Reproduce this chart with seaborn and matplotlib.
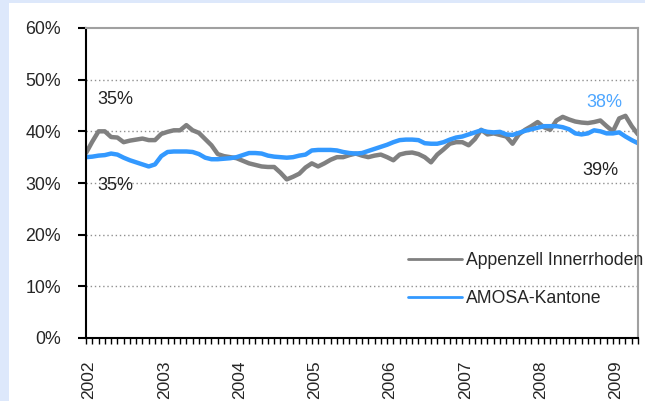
import numpy as np
import pandas as pd
import matplotlib
matplotlib.use('Agg')
import matplotlib.pyplot as plt
import matplotlib.transforms as mtrans
import seaborn as sns
from matplotlib.patches import Rectangle
from matplotlib.ticker import FuncFormatter

# Monatswerte Jan 2002 - Mai 2009, in %
appenzell = [35.8, 38.0, 40.0, 40.0, 38.9, 38.8, 37.9, 38.2, 38.4, 38.6,
             38.3, 38.3, 39.5, 39.9, 40.2, 40.2, 41.2, 40.2, 39.7, 38.5,
             37.3, 35.6, 35.2, 35.0, 34.8, 34.3, 33.8, 33.5, 33.2, 33.1,
             33.1, 32.0, 30.7, 31.2, 31.8, 33.0, 33.8, 33.2, 33.8, 34.5,
             35.0, 35.0, 35.4, 35.7, 35.3, 35.0, 35.3, 35.5, 35.0, 34.4,
             35.5, 35.8, 35.9, 35.6, 35.0, 34.0, 35.5, 36.5, 37.6, 37.9,
             37.9, 37.3, 38.5, 40.3, 39.4, 39.6, 39.3, 39.0, 37.6, 39.4,
             40.3, 41.0, 41.8, 40.8, 40.3, 42.1, 42.8, 42.3, 41.9, 41.7,
             41.6, 41.8, 42.1, 41.0, 40.0, 42.5, 43.0, 41.0, 39.4]
amosa = [35.0, 35.1, 35.3, 35.4, 35.7, 35.5, 34.9, 34.4, 34.0, 33.6,
         33.2, 33.6, 35.2, 36.0, 36.1, 36.1, 36.1, 36.0, 35.6, 34.9,
         34.6, 34.6, 34.7, 34.8, 35.0, 35.4, 35.8, 35.8, 35.7, 35.3,
         35.1, 35.0, 34.9, 35.0, 35.3, 35.5, 36.3, 36.4, 36.4, 36.4,
         36.3, 36.0, 35.8, 35.7, 35.8, 36.2, 36.6, 37.0, 37.4, 37.9,
         38.3, 38.4, 38.4, 38.3, 37.7, 37.6, 37.6, 37.9, 38.4, 38.8,
         39.0, 39.4, 39.8, 40.2, 39.9, 39.8, 39.9, 39.4, 39.3, 39.7,
         40.1, 40.4, 40.7, 41.0, 41.0, 41.0, 40.8, 40.4, 39.6, 39.4,
         39.6, 40.2, 40.0, 39.6, 39.6, 39.8, 39.0, 38.3, 37.7]
monate = pd.date_range('2002-01-01', periods=len(amosa), freq='MS')
serien = ['Appenzell Innerrhoden', 'AMOSA-Kantone']
farben = ['#808080', '#3399ff']

df = pd.DataFrame({
    'idx': np.tile(np.arange(len(monate)), 2),
    'wert': appenzell + amosa,
    'serie': np.repeat(serien, len(monate)),
})

sns.set_style('white')
plt.rcParams['font.family'] = ['Liberation Sans', 'DejaVu Sans']

fig = plt.figure(figsize=(6.45, 4.01), dpi=100)
fig.patch.set_facecolor('#dde8fb')
fig.patches.append(Rectangle((9 / 645, 0), 1, 1 - 3 / 401, transform=fig.transFigure,
                             facecolor='white', edgecolor='none', zorder=-10))
ax = fig.add_axes([86 / 645, 1 - 338 / 401, 552 / 645, 310 / 401])
ax.set_facecolor('white')

sns.lineplot(data=df, x='idx', y='wert', hue='serie', palette=farben,
             hue_order=serien, linewidth=3.2, ax=ax, legend=False)

ax.set_xlim(0, len(monate) - 1)
ax.set_ylim(0, 60)
ax.set_yticks(range(0, 61, 10))
ax.yaxis.set_major_formatter(FuncFormatter(lambda v, p: f'{v:.0f}%'))
ax.set_xticks(range(len(monate)))
ax.set_xticklabels([str(d.year) if d.month == 1 else '' for d in monate],
                   rotation=90, va='top', ha='center')
ax.set_xlabel('')
ax.set_ylabel('')
for g in range(10, 60, 10):
    ax.axhline(g, color='#909090', lw=1, ls=(0, (1, 2)), zorder=0)

ax.tick_params(axis='y', length=6, width=1.5, direction='out', pad=12,
               labelsize=12.8, left=True, color='black')
ax.tick_params(axis='x', length=4, width=1, direction='out', pad=12,
               labelsize=12.5, bottom=True, color='black')
verschieb = mtrans.ScaledTranslation(3 / 100, 0, fig.dpi_scale_trans)
for lab in ax.get_xticklabels():
    lab.set_transform(lab.get_transform() + verschieb)
for s in ['left', 'bottom']:
    ax.spines[s].set_color('black')
    ax.spines[s].set_linewidth(1.5)
for s in ['top', 'right']:
    ax.spines[s].set_color('#a0a0a0')
    ax.spines[s].set_linewidth(1.5)

# Datenbeschriftungen
ax.text(4.6, 46.2, '35%', color='#222222', fontsize=13, ha='center', va='center')
ax.text(4.6, 29.6, '35%', color='#222222', fontsize=13, ha='center', va='center')
ax.text(82.6, 45.5, '38%', color='#4da6ff', fontsize=13, ha='center', va='center')
ax.text(82.0, 32.5, '39%', color='#222222', fontsize=13, ha='center', va='center')

handles = [plt.Line2D([], [], color=c, lw=2) for c in farben]
ax.legend(handles, serien, loc='upper left', bbox_to_anchor=(0.57, 0.30),
          frameon=False, fontsize=12.7, handlelength=3.1, handletextpad=0.2,
          labelspacing=1.2, borderaxespad=0)

fig.savefig('out.png', dpi=100, facecolor=fig.get_facecolor())
